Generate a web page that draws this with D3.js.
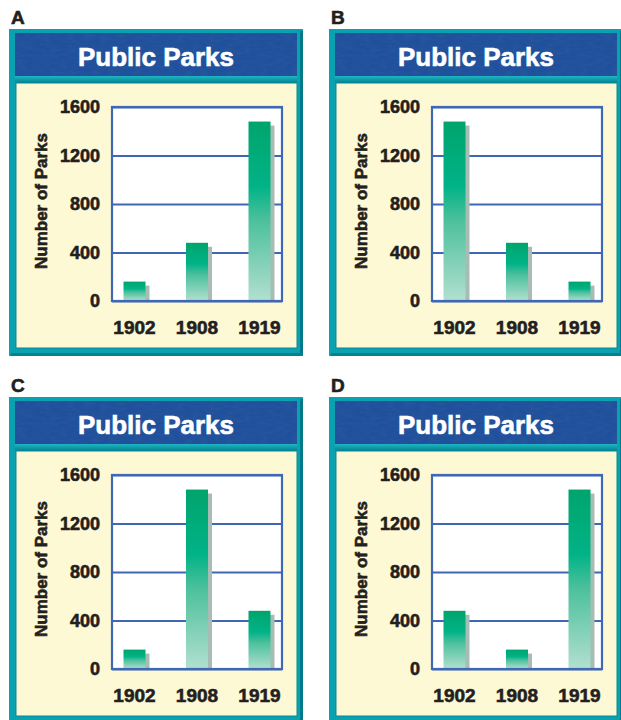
<!DOCTYPE html>
<html>
<head>
<meta charset="utf-8">
<script src="https://cdn.jsdelivr.net/npm/d3@7"></script>
<style>
  body { margin: 0; background: #fff; }
  text { font-family: "Liberation Sans", Arial, sans-serif; font-weight: bold; }
  .ink { stroke: #231f20; stroke-width: 0.6; }
</style>
</head>
<body>
<div id="chart"></div>
<script>
// chart data
const categories = ["1902", "1908", "1919"];
const panelLabels = ["A", "B", "C", "D"];
const valuesA = [160, 480, 1480];
const valuesB = [1480, 480, 160];
const valuesC = [160, 1480, 480];
const valuesD = [480, 160, 1480];
const yTicks = [0, 400, 800, 1200, 1600];
const chartTitle = "Public Parks";
const yTitle = "Number of Parks";

const panelValues = [valuesA, valuesB, valuesC, valuesD];

const W = 621, H = 720;
const panelW = 294, panelH = 327;
// top-left corner of each panel frame
const origins = [[9, 29], [329, 29], [9, 397], [329, 397]];

// plot area inside a panel
const plot = {left: 103, top: 78, width: 170, height: 194};

const svg = d3.select("#chart").append("svg")
    .attr("width", W)
    .attr("height", H);

const defs = svg.append("defs");

const barGrad = defs.append("linearGradient")
    .attr("id", "barFill")
    .attr("x1", 0).attr("y1", 0).attr("x2", 0).attr("y2", 1);
barGrad.append("stop").attr("offset", 0).attr("stop-color", "#00a46c");
barGrad.append("stop").attr("offset", 0.36).attr("stop-color", "#00b387");
barGrad.append("stop").attr("offset", 0.55).attr("stop-color", "#4cc09c");
barGrad.append("stop").attr("offset", 1).attr("stop-color", "#b2e0d0");

const sepGrad = defs.append("linearGradient")
    .attr("id", "sepFill")
    .attr("x1", 0).attr("y1", 0).attr("x2", 0).attr("y2", 1);
sepGrad.append("stop").attr("offset", 0).attr("stop-color", "#1fb6c4");
sepGrad.append("stop").attr("offset", 1).attr("stop-color", "#00828f");

// mottled texture for the title band
const noise = defs.append("filter").attr("id", "mottle")
    .attr("x", 0).attr("y", 0).attr("width", 1).attr("height", 1);
noise.append("feTurbulence")
    .attr("type", "fractalNoise")
    .attr("baseFrequency", "0.12 0.35")
    .attr("numOctaves", 2)
    .attr("seed", 4)
    .attr("result", "n");
noise.append("feColorMatrix")
    .attr("in", "n")
    .attr("type", "matrix")
    .attr("values", "0 0 0 0 0.12  0 0 0 0 0.25  0 0 0 0 0.5  0 0 0 0.6 -0.2")
    .attr("result", "c");
noise.append("feComposite")
    .attr("in", "c").attr("in2", "SourceGraphic").attr("operator", "in");

const x = d3.scaleBand()
    .domain(categories)
    .range([0, plot.width])
    .paddingInner(0.648)
    .paddingOuter(0.184);

const y = d3.scaleLinear()
    .domain([0, 1600])
    .range([plot.height, 0]);

panelLabels.forEach((label, i) => {
    const [px, py] = origins[i];
    const values = panelValues[i];
    const data = categories.map((c, j) => ({year: c, value: values[j]}));

    // panel letter
    svg.append("text")
        .attr("class", "ink")
        .attr("x", px + 2)
        .attr("y", py - 5)
        .attr("font-size", 19)
        .attr("fill", "#231f20")
        .text(label);

    const g = svg.append("g")
        .attr("transform", "translate(" + px + "," + py + ")");

    // teal frame
    g.append("rect")
        .attr("width", panelW).attr("height", panelH)
        .attr("fill", "#0aa1b1");
    g.append("rect")
        .attr("x", panelW - 3).attr("y", 2)
        .attr("width", 3).attr("height", panelH - 2)
        .attr("fill", "#007a87");
    g.append("rect")
        .attr("x", 2).attr("y", panelH - 3)
        .attr("width", panelW - 2).attr("height", 3)
        .attr("fill", "#00838f");

    // title band
    g.append("rect")
        .attr("x", 6).attr("y", 4)
        .attr("width", panelW - 12).attr("height", 43)
        .attr("fill", "#20509b");
    g.append("rect")
        .attr("x", 6).attr("y", 4)
        .attr("width", panelW - 12).attr("height", 43)
        .attr("fill", "#20509b")
        .attr("filter", "url(#mottle)")
        .attr("opacity", 0.35);
    g.append("rect")
        .attr("x", 6).attr("y", 47)
        .attr("width", panelW - 12).attr("height", 7)
        .attr("fill", "url(#sepFill)");

    g.append("text")
        .attr("x", panelW / 2)
        .attr("y", 37)
        .attr("text-anchor", "middle")
        .attr("font-size", 26)
        .attr("fill", "#fff")
        .attr("stroke", "#fff")
        .attr("stroke-width", 0.6)
        .text(chartTitle);

    // cream body
    g.append("rect")
        .attr("x", 7).attr("y", 54)
        .attr("width", panelW - 13).attr("height", 265)
        .attr("fill", "#fef9d5")
        .attr("stroke", "#0a8896")
        .attr("stroke-width", 1);

    // axis title
    g.append("text")
        .attr("class", "ink")
        .attr("transform", "translate(38," + (plot.top + plot.height / 2 - 3) + ") rotate(-90)")
        .attr("text-anchor", "middle")
        .attr("font-size", 17)
        .attr("fill", "#231f20")
        .text(yTitle);

    const p = g.append("g")
        .attr("transform", "translate(" + plot.left + "," + plot.top + ")");

    p.append("rect")
        .attr("width", plot.width).attr("height", plot.height)
        .attr("fill", "#fff");

    // gridlines + tick labels
    const yAxis = p.append("g")
        .call(d3.axisLeft(y).tickValues(yTicks).tickSize(-plot.width).tickPadding(12).tickFormat(d3.format("d")));
    yAxis.select(".domain").remove();
    yAxis.selectAll("line")
        .attr("stroke", "#3e68b4")
        .attr("stroke-width", 2.2);
    yAxis.selectAll("text")
        .attr("class", "ink")
        .attr("font-size", 18)
        .attr("fill", "#231f20")
        .attr("font-family", null);

    // bars with drop shadow
    const bars = p.selectAll(".bar")
        .data(data)
        .enter()
        .append("g");

    bars.append("rect")
        .attr("x", d => x(d.year) + 4)
        .attr("y", d => y(d.value) + 4)
        .attr("width", x.bandwidth())
        .attr("height", d => plot.height - y(d.value) - 4)
        .attr("fill", "#a7bcb3");

    bars.append("rect")
        .attr("x", d => x(d.year))
        .attr("y", d => y(d.value))
        .attr("width", x.bandwidth())
        .attr("height", d => plot.height - y(d.value))
        .attr("fill", "url(#barFill)");

    // plot border
    p.append("rect")
        .attr("width", plot.width).attr("height", plot.height)
        .attr("fill", "none")
        .attr("stroke", "#3e68b4")
        .attr("stroke-width", 2.2);

    // category labels
    const xAxis = p.append("g")
        .attr("transform", "translate(0," + plot.height + ")")
        .call(d3.axisBottom(x).tickSize(0).tickPadding(20));
    xAxis.select(".domain").remove();
    xAxis.selectAll("text")
        .attr("class", "ink")
        .attr("font-size", 19)
        .attr("fill", "#231f20")
        .attr("font-family", null);
});
</script>
</body>
</html>
